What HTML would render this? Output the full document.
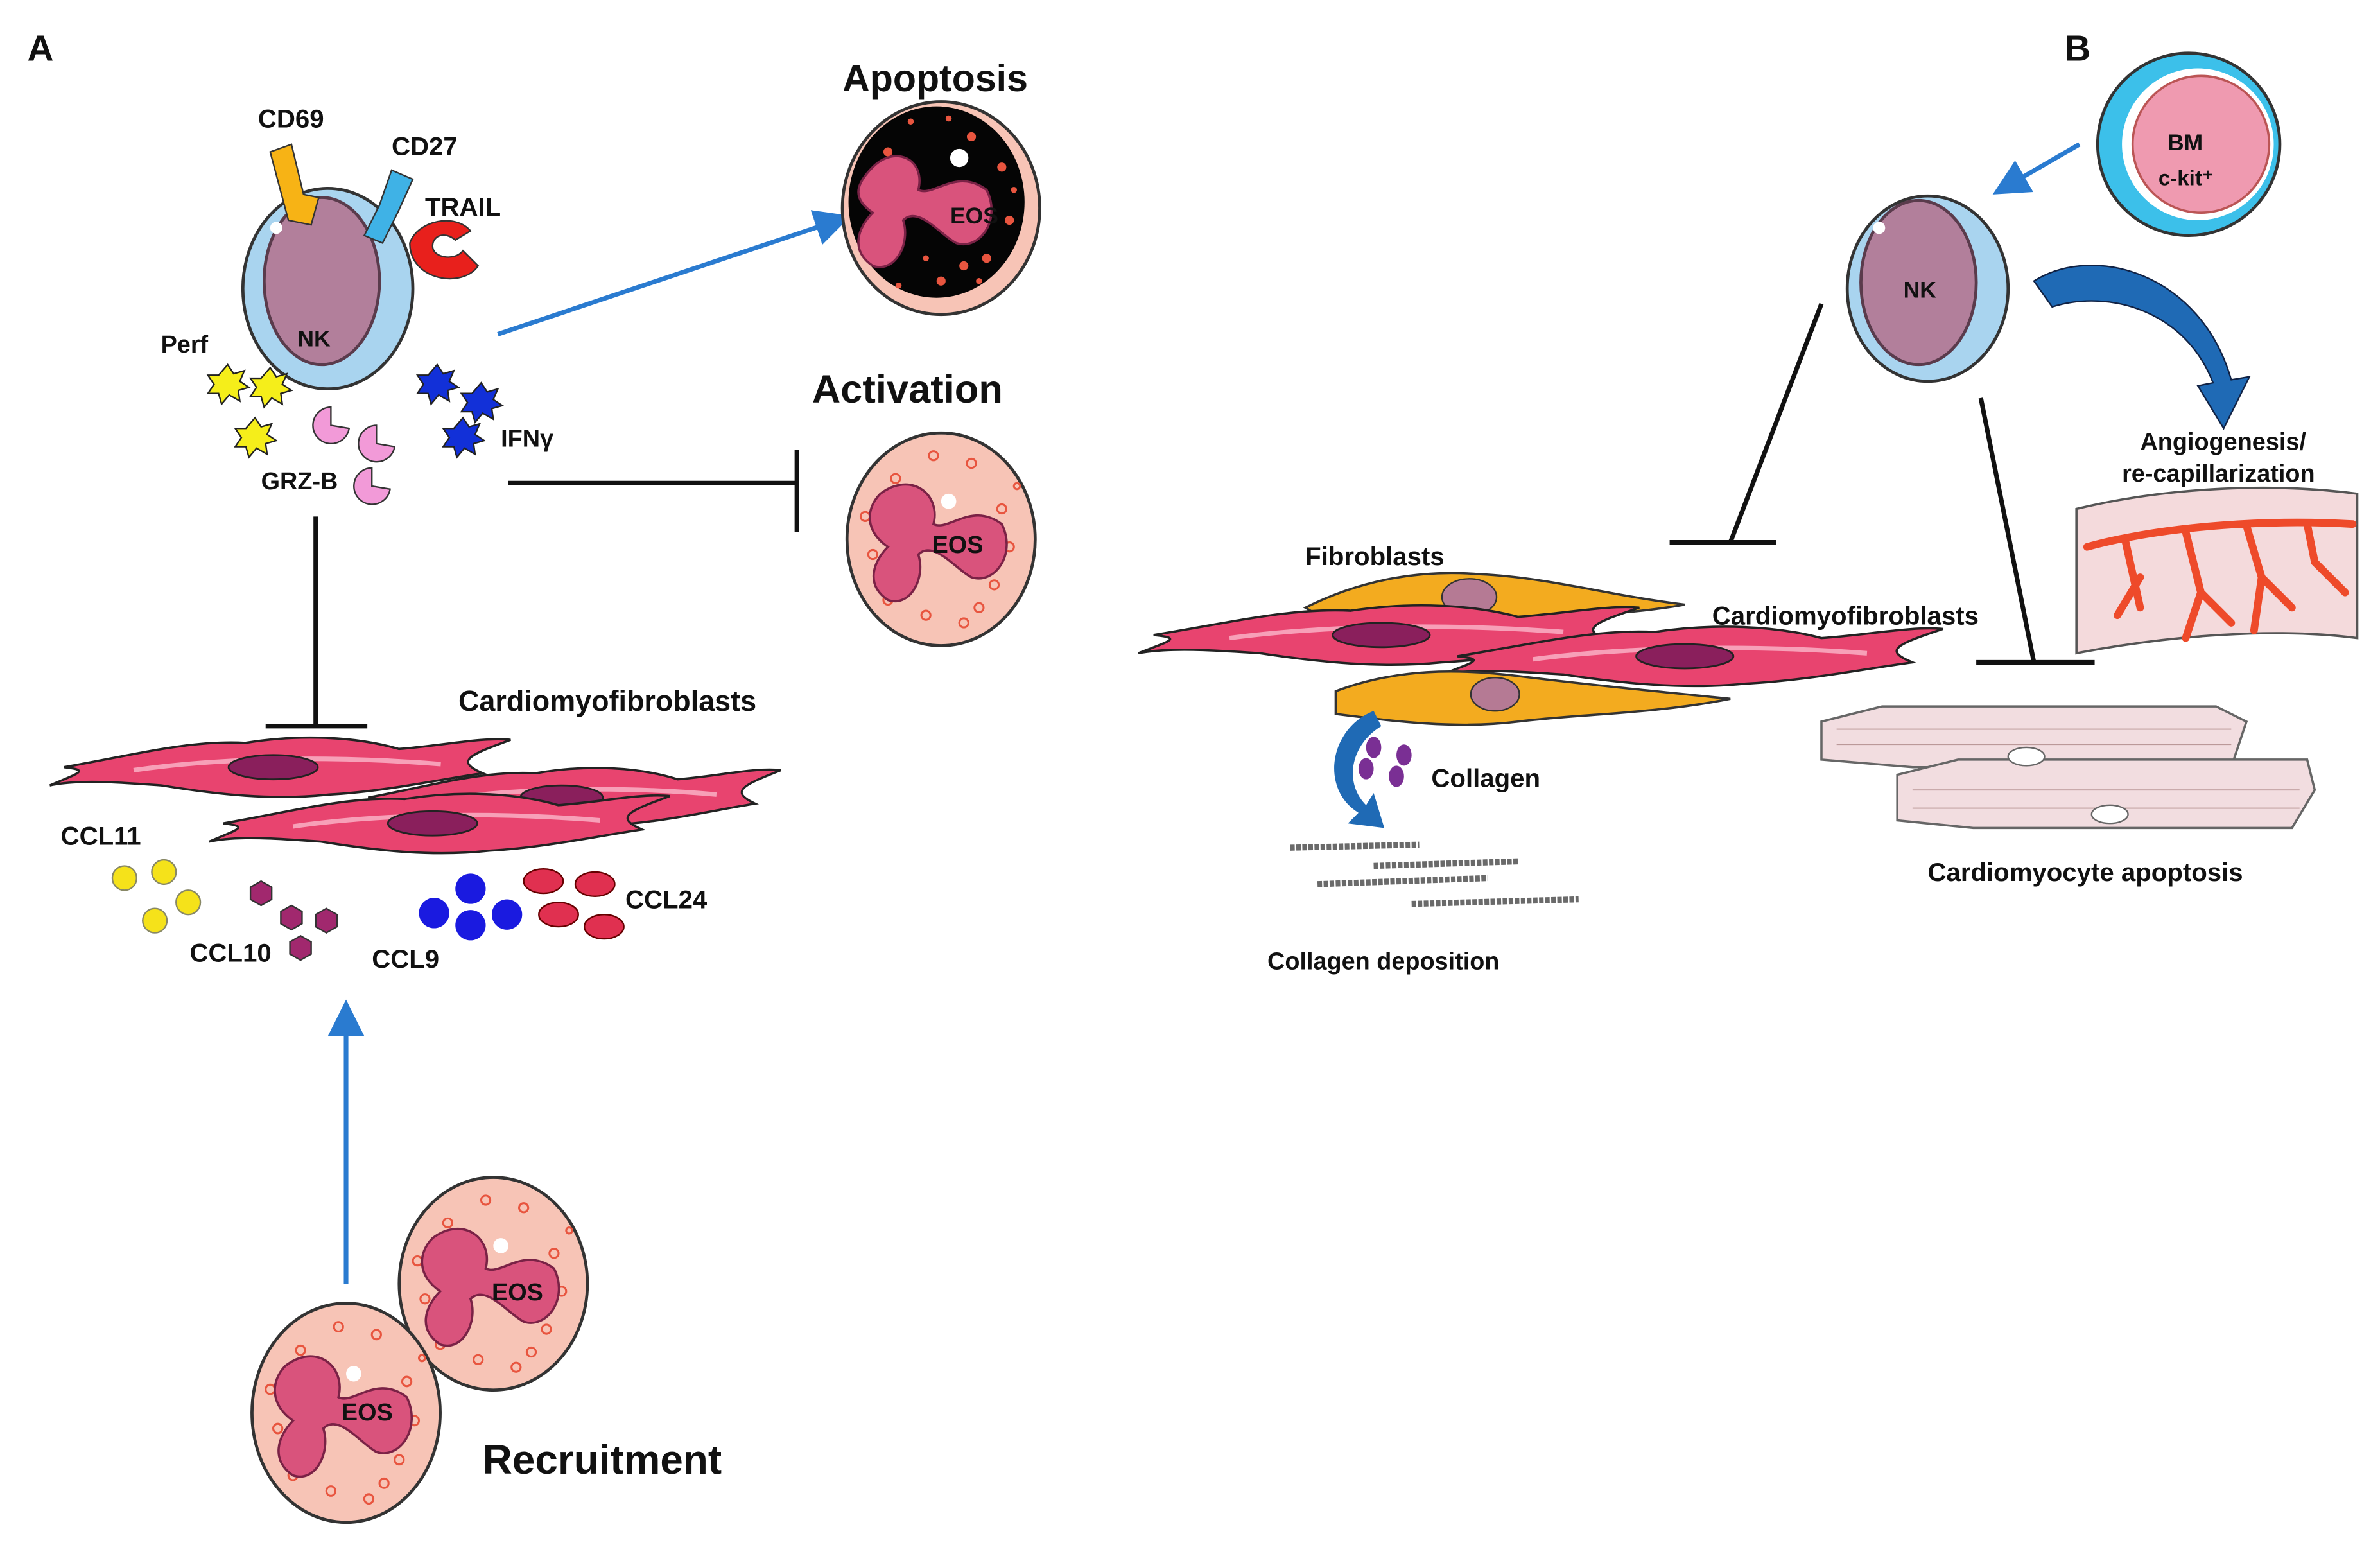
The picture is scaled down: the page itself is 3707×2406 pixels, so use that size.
<!DOCTYPE html>
<html><head><meta charset="utf-8"><style>
html,body{margin:0;padding:0;background:#fff;}
svg{display:block}
text{font-family:"Liberation Sans",sans-serif;font-weight:bold;fill:#111;}
</style></head><body>
<svg width="3707" height="2406" viewBox="0 0 1568 1017" preserveAspectRatio="none" xmlns="http://www.w3.org/2000/svg">
<defs>
<marker id="ab" markerWidth="8" markerHeight="8" refX="6" refY="4" orient="auto" markerUnits="strokeWidth"><path d="M0,0 L8,4 L0,8 Z" fill="#2a7bd0"/></marker>
<g id="fib">
<path d="M-150,0 C-100,-8 -60,-18 -20,-16 C20,-22 60,-20 90,-12 C120,-14 150,-20 170,-18 C140,-8 130,-4 150,4 C120,8 80,16 40,18 C0,22 -40,18 -80,12 C-110,10 -140,8 -160,12 C-140,4 -130,2 -150,0 Z" fill="#e8446f" stroke="#222" stroke-width="1.5"/>
<path d="M-100,2 C-40,-6 40,-8 120,-2" stroke="#f7a0b8" stroke-width="3" fill="none"/>
<ellipse cx="0" cy="0" rx="32" ry="8" fill="#8a1f5c" stroke="#222" stroke-width="1.2"/>
</g>
<g id="eos">
<ellipse cx="0" cy="0" rx="62" ry="70" fill="#f7c4b6" stroke="#333" stroke-width="2"/>
<g fill="none" stroke="#e8553f" stroke-width="1.3">
<circle cx="-30" cy="-40" r="3"/><circle cx="20" cy="-50" r="3"/><circle cx="40" cy="-20" r="3"/><circle cx="-45" cy="10" r="3"/><circle cx="35" cy="30" r="3"/><circle cx="-10" cy="50" r="3"/><circle cx="15" cy="55" r="3"/><circle cx="-35" cy="40" r="3"/><circle cx="45" cy="5" r="3"/><circle cx="-5" cy="-55" r="3"/><circle cx="-50" cy="-15" r="3"/><circle cx="25" cy="45" r="3"/><circle cx="50" cy="-35" r="2"/><circle cx="-20" cy="-25" r="2"/>
</g>
<path d="M-40,-30 C-20,-45 0,-30 -5,-10 C5,-5 20,-25 40,-10 C50,10 35,30 20,25 C10,20 -5,0 -15,10 C-10,25 -20,45 -35,40 C-50,30 -45,15 -35,5 C-50,-5 -50,-20 -40,-30 Z" fill="#d9537c" stroke="#7a2246" stroke-width="1.5"/>
<circle cx="5" cy="-25" r="5" fill="#fff"/>
</g>
</defs>

<text x="18" y="40" font-size="24">A</text>
<text x="1360" y="40" font-size="24">B</text>

<!-- NK cell A -->
<ellipse cx="216" cy="190" rx="56" ry="66" fill="#a9d4ef" stroke="#333" stroke-width="2"/>
<ellipse cx="212" cy="185" rx="38" ry="55" fill="#b27f9b" stroke="#5a3b4c" stroke-width="2"/>
<circle cx="182" cy="150" r="4" fill="#fff"/>
<text x="196" y="228" font-size="15">NK</text>
<text x="170" y="84" font-size="17">CD69</text>
<path d="M178,100 L192,95 L200,128 L210,130 L205,148 L190,145 Z" fill="#f7b315" stroke="#333"/>
<text x="258" y="102" font-size="17">CD27</text>
<path d="M258,112 L272,118 L262,140 L252,160 L240,155 L250,135 Z" fill="#3fb2e6" stroke="#333"/>
<text x="280" y="142" font-size="17">TRAIL</text>
<path d="M270,160 C275,145 300,140 310,152 L300,158 C293,152 285,155 285,162 C285,170 300,172 305,165 L315,175 C305,190 270,185 270,160 Z" fill="#e8201c" stroke="#333"/>
<text x="106" y="232" font-size="16">Perf</text>
<g fill="#f5ee1a" stroke="#222">
<polygon points="150,240 154,246 161,244 158,251 164,255 157,257 158,264 151,260 146,266 144,259 137,259 141,253 137,247 144,247"/>
<polygon points="178,242 182,248 189,246 186,253 192,257 185,259 186,266 179,262 174,268 172,261 165,261 169,255 165,249 172,249"/>
<polygon points="168,275 172,281 179,279 176,286 182,290 175,292 176,299 169,295 164,301 162,294 155,294 159,288 155,282 162,282"/>
</g>
<g fill="#1230d8" stroke="#222">
<polygon points="288,240 292,246 299,244 296,251 302,255 295,257 296,264 289,260 284,266 282,259 275,259 279,253 275,247 282,247"/>
<polygon points="317,252 321,258 328,256 325,263 331,267 324,269 325,276 318,272 313,278 311,271 304,271 308,265 304,259 311,259"/>
<polygon points="305,275 309,281 316,279 313,286 319,290 312,292 313,299 306,295 301,301 299,294 292,294 296,288 292,282 299,282"/>
</g>
<g fill="#f29ad8" stroke="#333">
<path d="M218,268 A12,12 0 1 0 230,282 L218,280 Z"/>
<path d="M248,280 A12,12 0 1 0 260,294 L248,292 Z"/>
<path d="M245,308 A12,12 0 1 0 257,322 L245,320 Z"/>
</g>
<text x="172" y="322" font-size="16">GRZ-B</text>
<text x="330" y="294" font-size="16">IFNγ</text>

<line x1="328" y1="220" x2="555" y2="144" stroke="#2a7bd0" stroke-width="3" marker-end="url(#ab)"/>
<text x="555" y="60" font-size="25">Apoptosis</text>
<ellipse cx="620" cy="137" rx="65" ry="70" fill="#f7c4b6" stroke="#333" stroke-width="2"/>
<ellipse cx="617" cy="133" rx="58" ry="63" fill="#050505"/>
<g fill="#e8553f"><circle cx="585" cy="100" r="3"/><circle cx="640" cy="90" r="3"/><circle cx="660" cy="110" r="3"/><circle cx="580" cy="160" r="3"/><circle cx="650" cy="170" r="3"/><circle cx="620" cy="185" r="3"/><circle cx="600" cy="80" r="2"/><circle cx="665" cy="145" r="3"/><circle cx="635" cy="175" r="3"/><circle cx="610" cy="170" r="2"/><circle cx="592" cy="188" r="2"/><circle cx="668" cy="125" r="2"/><circle cx="625" cy="78" r="2"/><circle cx="645" cy="185" r="2"/></g>
<path d="M575,110 C590,95 610,105 605,125 C615,130 630,110 650,125 C660,145 645,165 630,160 C620,155 605,135 595,145 C600,160 590,180 575,175 C560,165 565,150 575,140 C560,130 565,120 575,110 Z" fill="#d9537c" stroke="#7a2246" stroke-width="1.5"/>
<circle cx="632" cy="104" r="6" fill="#fff"/>
<text x="626" y="147" font-size="15">EOS</text>

<text x="535" y="265" font-size="26">Activation</text>
<g transform="translate(620,355)"><use href="#eos"/></g>
<text x="614" y="364" font-size="16">EOS</text>
<line x1="335" y1="318" x2="525" y2="318" stroke="#111" stroke-width="3"/>
<line x1="525" y1="296" x2="525" y2="350" stroke="#111" stroke-width="3"/>

<line x1="208" y1="340" x2="208" y2="478" stroke="#111" stroke-width="3"/>
<line x1="175" y1="478" x2="242" y2="478" stroke="#111" stroke-width="3"/>
<text x="302" y="468" font-size="19">Cardiomyofibroblasts</text>

<g transform="translate(180,505) scale(0.92,1)"><use href="#fib"/></g>
<g transform="translate(370,525) scale(0.85,1)"><use href="#fib"/></g>
<g transform="translate(285,542) scale(0.92,1)"><use href="#fib"/></g>

<text x="40" y="556" font-size="17">CCL11</text>
<g fill="#f5e21a" stroke="#886"><circle cx="82" cy="578" r="8"/><circle cx="108" cy="574" r="8"/><circle cx="124" cy="594" r="8"/><circle cx="102" cy="606" r="8"/></g>
<g fill="#a1286e" stroke="#333">
<polygon points="172,580 179,584 179,592 172,596 165,592 165,584"/>
<polygon points="192,596 199,600 199,608 192,612 185,608 185,600"/>
<polygon points="215,598 222,602 222,610 215,614 208,610 208,602"/>
<polygon points="198,616 205,620 205,628 198,632 191,628 191,620"/>
</g>
<text x="125" y="633" font-size="17">CCL10</text>
<g fill="#1a1ae0"><circle cx="286" cy="601" r="10"/><circle cx="310" cy="609" r="10"/><circle cx="334" cy="602" r="10"/><circle cx="310" cy="585" r="10"/></g>
<text x="245" y="637" font-size="17">CCL9</text>
<g fill="#e03050" stroke="#600"><ellipse cx="358" cy="580" rx="13" ry="8"/><ellipse cx="392" cy="582" rx="13" ry="8"/><ellipse cx="368" cy="602" rx="13" ry="8"/><ellipse cx="398" cy="610" rx="13" ry="8"/></g>
<text x="412" y="598" font-size="17">CCL24</text>

<line x1="228" y1="845" x2="228" y2="664" stroke="#2a7bd0" stroke-width="3" marker-end="url(#ab)"/>
<g transform="translate(325,845)"><use href="#eos"/></g>
<text x="324" y="856" font-size="16">EOS</text>
<g transform="translate(228,930) scale(1,1.03)"><use href="#eos"/></g>
<text x="225" y="935" font-size="16">EOS</text>
<text x="318" y="970" font-size="27">Recruitment</text>

<!-- B -->
<circle cx="1442" cy="95" r="60" fill="#3cc0ea" stroke="#333" stroke-width="2"/>
<circle cx="1448" cy="95" r="50" fill="#fff"/>
<circle cx="1450" cy="95" r="45" fill="#ef9ab0" stroke="#b55" stroke-width="1.5"/>
<text x="1428" y="99" font-size="15">BM</text>
<text x="1422" y="122" font-size="14">c-kit⁺</text>
<line x1="1370" y1="95" x2="1318" y2="125" stroke="#2a7bd0" stroke-width="3" marker-end="url(#ab)"/>

<ellipse cx="1270" cy="190" rx="53" ry="61" fill="#a9d4ef" stroke="#333" stroke-width="2"/>
<ellipse cx="1264" cy="186" rx="38" ry="54" fill="#b27f9b" stroke="#5a3b4c" stroke-width="2"/>
<circle cx="1238" cy="150" r="4" fill="#fff"/>
<text x="1254" y="196" font-size="15">NK</text>

<path d="M1340,185 C1380,160 1450,180 1470,250 L1482,248 L1465,282 L1448,254 L1458,252 C1440,205 1390,190 1352,202 Z" fill="#1f6ab5" stroke="#124" stroke-width="1"/>
<text x="1410" y="296" font-size="16">Angiogenesis/</text>
<text x="1398" y="317" font-size="16">re-capillarization</text>
<path d="M1368,335 C1430,320 1500,318 1553,325 L1553,420 C1500,413 1430,418 1368,430 Z" fill="#f4dadc" stroke="#555" stroke-width="1.5"/>
<g stroke="#ee4a2a" stroke-width="5" fill="none" stroke-linecap="round">
<path d="M1375,360 C1430,345 1500,342 1550,345"/>
<path d="M1400,355 L1410,400 M1410,380 L1395,405"/>
<path d="M1440,350 L1450,390 L1440,420 M1450,390 L1470,410"/>
<path d="M1480,346 L1490,380 L1510,400 M1490,380 L1485,415"/>
<path d="M1520,345 L1525,370 L1545,390"/>
</g>

<line x1="1200" y1="200" x2="1140" y2="357" stroke="#111" stroke-width="3"/>
<line x1="1100" y1="357" x2="1170" y2="357" stroke="#111" stroke-width="3"/>
<line x1="1305" y1="262" x2="1340" y2="436" stroke="#111" stroke-width="3"/>
<line x1="1302" y1="436" x2="1380" y2="436" stroke="#111" stroke-width="3"/>

<text x="860" y="372" font-size="17">Fibroblasts</text>
<path d="M860,400 C900,380 940,375 975,378 C1020,380 1060,392 1110,398 C1070,405 1030,405 1000,410 C960,420 920,418 880,412 Z" fill="#f3ab1f" stroke="#333" stroke-width="1.5"/>
<ellipse cx="968" cy="393" rx="18" ry="12" fill="#b57a94" stroke="#333"/>
<g transform="translate(910,418)"><use href="#fib"/></g>
<g transform="translate(1110,432)"><use href="#fib"/></g>
<path d="M880,455 C920,440 960,440 1000,445 C1040,450 1090,455 1140,460 C1090,470 1040,470 1000,475 C960,480 920,475 880,470 Z" fill="#f3ab1f" stroke="#333" stroke-width="1.5"/>
<ellipse cx="985" cy="457" rx="16" ry="11" fill="#b57a94" stroke="#333"/>
<text x="1128" y="411" font-size="17">Cardiomyofibroblasts</text>

<path d="M905,468 C875,480 870,520 895,535 L888,542 L912,545 L905,522 L900,530 C885,515 890,490 910,478 Z" fill="#1f6ab5"/>
<g fill="#7a2f94"><ellipse cx="905" cy="492" rx="5" ry="7"/><ellipse cx="925" cy="497" rx="5" ry="7"/><ellipse cx="920" cy="511" rx="5" ry="7"/><ellipse cx="900" cy="506" rx="5" ry="7"/></g>
<text x="943" y="518" font-size="17">Collagen</text>
<g stroke="#6a6a6a" stroke-width="4" stroke-dasharray="3 1">
<line x1="850" y1="558" x2="935" y2="556"/><line x1="905" y1="570" x2="1000" y2="567"/><line x1="868" y1="582" x2="980" y2="578"/><line x1="930" y1="595" x2="1040" y2="592"/>
</g>
<text x="835" y="638" font-size="16">Collagen deposition</text>

<g fill="#f2dde0" stroke="#666" stroke-width="1.5">
<path d="M1200,475 L1240,465 L1460,465 L1480,475 L1470,505 L1260,505 L1200,500 Z"/>
<path d="M1250,510 L1290,500 L1520,500 L1525,520 L1510,545 L1300,545 L1250,540 Z"/>
</g>
<g stroke="#b99" stroke-width="0.8"><line x1="1210" y1="480" x2="1470" y2="480"/><line x1="1210" y1="490" x2="1470" y2="490"/><line x1="1260" y1="520" x2="1515" y2="520"/><line x1="1260" y1="532" x2="1515" y2="532"/></g>
<ellipse cx="1335" cy="498" rx="12" ry="6" fill="#fff" stroke="#666"/>
<ellipse cx="1390" cy="536" rx="12" ry="6" fill="#fff" stroke="#666"/>
<text x="1270" y="580" font-size="17">Cardiomyocyte apoptosis</text>
</svg>
</body></html>
